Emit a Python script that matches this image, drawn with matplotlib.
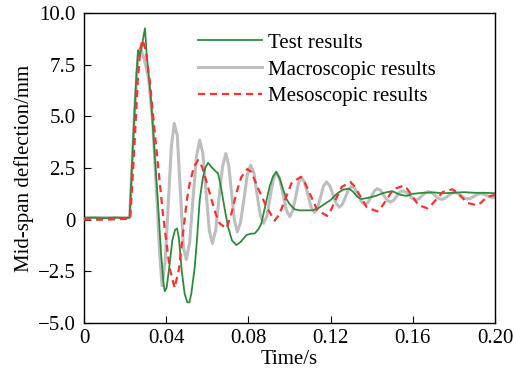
import matplotlib.pyplot as plt
from matplotlib.ticker import FixedLocator, FixedFormatter

plt.rcParams['font.family'] = ['Liberation Serif', 'DejaVu Serif']

# Test record (mid-span deflection, mm)
t_test = [0.0, 0.005, 0.010, 0.015, 0.020, 0.0222, 0.0240, 0.0255, 0.0264, 0.0270,
          0.0280, 0.0290, 0.0297, 0.0305, 0.0315, 0.0328, 0.0345, 0.0360, 0.0375, 0.0386,
          0.0393, 0.0402, 0.0415, 0.0430, 0.0443, 0.0453, 0.0462, 0.0476, 0.0490, 0.0503,
          0.0513, 0.0522, 0.0539, 0.0551, 0.0563, 0.0578, 0.0590, 0.0604, 0.0620, 0.0640,
          0.0652, 0.0660, 0.0668, 0.0685, 0.0701, 0.0720, 0.0741, 0.0760, 0.0790, 0.0810,
          0.0831, 0.0850, 0.0863, 0.0883, 0.0903, 0.0920, 0.0936, 0.0952, 0.0968, 0.0985,
          0.1001, 0.1025, 0.1050,
          0.1080, 0.1110, 0.1140, 0.1170, 0.1200, 0.1230, 0.1260, 0.1290, 0.1310, 0.1330,
          0.1350, 0.1380, 0.1420, 0.1460, 0.1500, 0.1540, 0.1570, 0.1600, 0.1650, 0.1700,
          0.1750, 0.1800, 0.1850, 0.1900, 0.1950, 0.2000]
v_test = [0.08, 0.10, 0.07, 0.10, 0.08, 0.10, 4.0, 7.0, 8.2, 7.9,
          8.3, 8.9, 9.26, 8.0, 7.0, 5.6, 3.0, 0.8, -1.6, -3.0,
          -3.46, -3.3, -2.3, -1.0, -0.5, -0.43, -0.9, -2.5, -3.6, -4.0,
          -4.0, -3.6, -2.3, -0.8, 0.94, 2.0, 2.5, 2.75, 2.55, 2.35,
          2.25, 1.9, 1.5, 0.5, -0.35, -1.0, -1.23, -1.1, -0.75, -0.68,
          -0.67, -0.45, -0.18, 0.7, 1.59, 2.1, 2.31, 2.0, 1.5, 1.0,
          0.75, 0.5, 0.45,
          0.45, 0.45, 0.55, 0.75, 0.95, 1.25, 1.45, 1.5, 1.35, 1.1,
          1.0, 1.05, 1.15, 1.3, 1.38, 1.2, 1.15, 1.25, 1.3, 1.32,
          1.28, 1.3, 1.33, 1.3, 1.3, 1.28]

# Macroscopic model
t_macro = [0.0, 0.010, 0.0222, 0.0245, 0.0263, 0.0275, 0.0295, 0.0315, 0.0335, 0.0355,
           0.0368, 0.0380,
           0.0395, 0.0410, 0.0425, 0.0439,
           0.0454, 0.0469, 0.0484, 0.0498,
           0.0514, 0.0530, 0.0547, 0.0563,
           0.0578, 0.0594, 0.0610, 0.0625,
           0.0641, 0.0657, 0.0674, 0.0690,
           0.0704, 0.0718, 0.0732, 0.0746,
           0.0762, 0.0779, 0.0795, 0.0811,
           0.0827, 0.0842, 0.0858, 0.0874,
           0.0890, 0.0905, 0.0921, 0.0936,
           0.0952, 0.0969, 0.0985, 0.1001,
           0.1015, 0.1030, 0.1044, 0.1058,
           0.1074, 0.1090, 0.1105, 0.1121,
           0.1136, 0.1151, 0.1165, 0.1180,
           0.1196, 0.1212, 0.1227, 0.1243,
           0.1258, 0.1273, 0.1288, 0.1303,
           0.1319, 0.1335, 0.1351, 0.1367,
           0.1382, 0.1398, 0.1413, 0.1428,
           0.1444, 0.1459, 0.1475, 0.1490,
           0.1506, 0.1521, 0.1537, 0.1552,
           0.1568, 0.1583, 0.1599, 0.1614,
           0.1630, 0.1645, 0.1661, 0.1676,
           0.1692, 0.1708, 0.1724, 0.1740,
           0.1756, 0.1772, 0.1787, 0.1803,
           0.1819, 0.1835, 0.1851, 0.1867,
           0.1883, 0.1898, 0.1914, 0.1930,
           0.1946, 0.1962, 0.1977, 0.1993, 0.2000]
v_macro = [0.10, 0.10, 0.10, 5.0, 8.0, 8.3, 7.7, 6.8, 4.6, 1.0,
           -1.6, -3.20,
           -2.05, 0.73, 3.51, 4.66,
           4.06, 1.37, -1.35, -1.93,
           -1.11, 0.96, 3.02, 3.85,
           3.25, 1.35, -0.55, -1.15,
           -0.50, 1.03, 2.56, 3.20,
           2.65, 1.31, -0.03, -0.59,
           -0.12, 1.03, 2.18, 2.64,
           2.25, 1.23, 0.22, -0.18,
           0.17, 1.06, 1.94, 2.29,
           1.97, 1.22, 0.46, 0.14,
           0.42, 1.10, 1.77, 2.05,
           1.80, 1.20, 0.60, 0.35,
           0.56, 1.09, 1.61, 1.82,
           1.64, 1.21, 0.78, 0.60,
           0.75, 1.11, 1.47, 1.62,
           1.49, 1.17, 0.85, 0.72,
           0.83, 1.11, 1.39, 1.50,
           1.41, 1.18, 0.94, 0.85,
           0.93, 1.13, 1.33, 1.40,
           1.33, 1.18, 1.02, 0.95,
           1.01, 1.16, 1.30, 1.36,
           1.31, 1.17, 1.03, 0.98,
           1.03, 1.15, 1.27, 1.32,
           1.28, 1.16, 1.05, 1.00,
           1.04, 1.13, 1.22, 1.26,
           1.23, 1.16, 1.09, 1.06, 1.07]

# Mesoscopic model
t_meso = [0.0, 0.010, 0.0225, 0.0245, 0.0262, 0.0275, 0.0285,
          0.0300, 0.0320, 0.0352, 0.0385, 0.0417, 0.0441,
          0.0462, 0.0482, 0.0500, 0.0514, 0.0535, 0.0555,
          0.0575, 0.0600, 0.0620, 0.0640, 0.0660, 0.0693,
          0.0715, 0.0741, 0.0765, 0.0795,
          0.0815, 0.0850, 0.0888, 0.0928,
          0.0950, 0.0980, 0.1010, 0.1055,
          0.1074, 0.1105, 0.1135, 0.1183,
          0.1199, 0.1226, 0.1255, 0.1297,
          0.1316, 0.1346, 0.1376, 0.1427,
          0.1446, 0.1476, 0.1506, 0.1556,
          0.1573, 0.1600, 0.1627, 0.1670,
          0.1688, 0.1717, 0.1746, 0.1792,
          0.1810, 0.1838, 0.1866, 0.1911,
          0.1930, 0.1960, 0.2000]
v_meso = [0.0, 0.0, 0.05, 3.5, 6.8, 8.3, 8.7,
          8.2, 6.7, 3.45, 0.2, -2.35, -3.3,
          -2.4, -0.67, 0.9, 1.75, 2.55, 2.88,
          2.55, 1.7, 1.0, 0.3, -0.18, -0.43,
          0.2, 1.27, 2.05, 2.45,
          2.3, 1.45, 0.62, -0.05,
          0.25, 1.0, 1.77, 2.07,
          1.80, 1.13, 0.46, 0.18,
          0.41, 1.00, 1.59, 1.82,
          1.62, 1.11, 0.60, 0.40,
          0.58, 1.03, 1.47, 1.65,
          1.49, 1.10, 0.71, 0.55,
          0.68, 1.01, 1.34, 1.47,
          1.36, 1.09, 0.81, 0.70,
          0.80, 1.10, 1.20]

x_ticks = [0, 0.04, 0.08, 0.12, 0.16, 0.20]
x_labels = ['0', '0.04', '0.08', '0.12', '0.16', '0.20']
y_ticks = [-5, -2.5, 0, 2.5, 5, 7.5, 10]
y_labels = ['\u22125.0', '\u22122.5', '0', '2.5', '5.0', '7.5', '10.0']

fs = 15

fig = plt.figure(figsize=(5.14, 3.74), dpi=100)
ax = fig.add_axes([0.1634, 0.1364, 0.7996, 0.8288])

ax.plot(t_test, v_test, color='#2e8b3e', lw=1.3, label='Test results', zorder=3)
ax.plot(t_macro, v_macro, color='#bebebe', lw=2.2, label='Macroscopic results', zorder=2)
ax.plot(t_meso, v_meso, color='#ff3030', lw=1.6, ls=(0, (3.2, 2.2)), label='Mesoscopic results', zorder=4)

ax.set_xlim(0, 0.20)
ax.set_ylim(-5, 10)
ax.xaxis.set_major_locator(FixedLocator(x_ticks))
ax.xaxis.set_major_formatter(FixedFormatter(x_labels))
ax.yaxis.set_major_locator(FixedLocator(y_ticks))
ax.yaxis.set_major_formatter(FixedFormatter(y_labels))
ax.tick_params(direction='in', length=5, width=0.8, labelsize=fs)
ax.tick_params(axis='x', pad=4)
ax.tick_params(axis='y', pad=6)
ax.tick_params(top=False, right=False)
for s in ax.spines.values():
    s.set_linewidth(1.0)

ax.set_xlabel('Time/s', fontsize=fs, labelpad=2)
ax.set_ylabel('Mid-span deflection/mm', fontsize=fs, labelpad=3)

ax.legend(loc='upper left', bbox_to_anchor=(0.277, 0.935), frameon=False,
          fontsize=fs, handlelength=3.1, handletextpad=0.25, labelspacing=0.35,
          borderpad=0, borderaxespad=0)

fig.savefig('out.png', dpi=100)
